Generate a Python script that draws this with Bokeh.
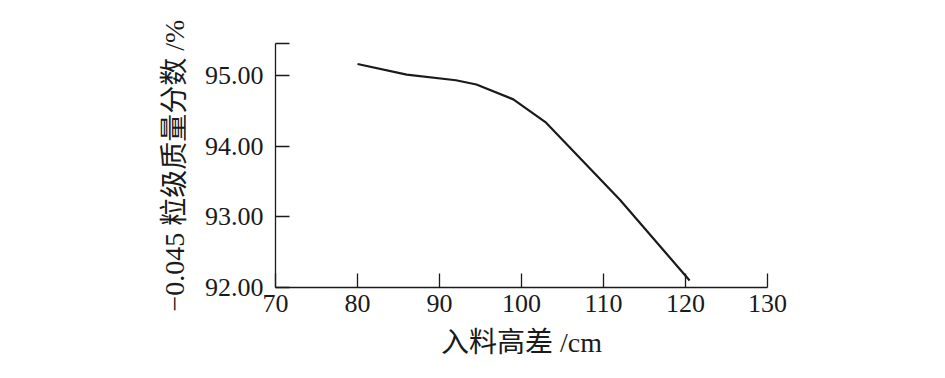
from bokeh.plotting import figure
from bokeh.models import Range1d, FixedTicker, CustomJSTickFormatter
from bokeh.embed import file_html
from bokeh.resources import INLINE

# data
height_diff = [80, 86, 92, 94.5, 99, 103, 112, 120.5]
fraction = [95.16, 95.01, 94.93, 94.87, 94.66, 94.33, 93.24, 92.10]

x_ticks = [70, 80, 90, 100, 110, 120, 130]
y_ticks = [92.0, 93.0, 94.0, 95.0, 95.45]

FONT = "'Liberation Serif', 'Noto Sans CJK SC', serif"

p = figure(width=945, height=378, output_backend="svg", toolbar_location=None,
           x_range=Range1d(70, 130), y_range=Range1d(92.0, 95.45),
           min_border_left=275, min_border_right=178, min_border_top=43, min_border_bottom=91)
p.outline_line_color = None
p.grid.visible = False
p.background_fill_color = "white"
p.border_fill_color = "white"

p.line(height_diff, fraction, line_color="#1a1a1a", line_width=2.2)

for ax in (p.xaxis[0], p.yaxis[0]):
    ax.axis_line_color = "#1a1a1a"
    ax.axis_line_width = 1.3
    ax.major_tick_line_color = "#1a1a1a"
    ax.major_tick_line_width = 1.3
    ax.major_tick_in = 14
    ax.major_tick_out = 0
    ax.minor_tick_line_color = None
    ax.major_label_text_font = FONT
    ax.major_label_text_font_size = "26px"
    ax.major_label_text_color = "#1a1a1a"
    ax.axis_label_text_font = FONT
    ax.axis_label_text_font_size = "28px"
    ax.axis_label_text_font_style = "normal"
    ax.axis_label_text_color = "#1a1a1a"

p.xaxis.ticker = FixedTicker(ticks=x_ticks)
p.yaxis.ticker = FixedTicker(ticks=y_ticks)
p.yaxis.formatter = CustomJSTickFormatter(code="return tick > 95.2 ? '' : tick.toFixed(2);")
p.xaxis.major_label_standoff = 7
p.yaxis.major_label_standoff = 12
p.xaxis.axis_label = "入料高差 /cm"
p.yaxis.axis_label = "−0.045 粒级质量分数 /%"
p.xaxis.axis_label_standoff = 12
p.yaxis.axis_label_standoff = 12

open("out.html", "w").write(file_html(p, INLINE))
